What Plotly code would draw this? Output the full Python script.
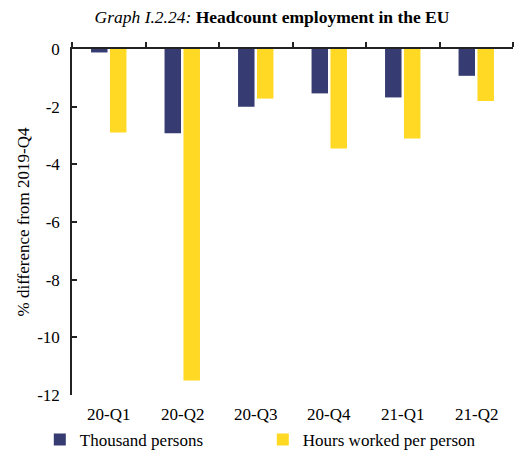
import plotly.graph_objects as go

# ---- Data ----
quarters = ["20-Q1", "20-Q2", "20-Q3", "20-Q4", "21-Q1", "21-Q2"]
thousand_persons = [-0.12, -2.92, -2.0, -1.54, -1.68, -0.93]
hours_per_person = [-2.9, -11.5, -1.72, -3.45, -3.1, -1.8]
y_ticks = [0, -2, -4, -6, -8, -10, -12]
y_labels = ["0", "-2", "-4", "-6", "-8", "-10", "-12"]

NAVY = "#363B72"
YELLOW = "#FFD923"
FONT = "Liberation Serif"

W, H = 515, 460
M = dict(l=72, r=2, t=49, b=56)
plot_h = H - M["t"] - M["b"]

fig = go.Figure()
fig.add_trace(go.Bar(x=quarters, y=thousand_persons, name="Thousand persons",
                     marker=dict(color=NAVY, line=dict(width=0))))
fig.add_trace(go.Bar(x=quarters, y=hours_per_person, name="Hours worked per person",
                     marker=dict(color=YELLOW, line=dict(width=0))))

# category labels sit under the plot, the axis line itself is at y=0 (top)
for q in quarters:
    fig.add_annotation(x=q, xref="x", y=-20 / plot_h, yref="paper", yanchor="middle",
                       text=q, showarrow=False, font=dict(size=17))

fig.update_layout(
    width=W, height=H,
    margin=M,
    paper_bgcolor="white", plot_bgcolor="white",
    font=dict(family=FONT, size=17, color="black"),
    barmode="group", bargap=0.485, bargroupgap=0.13,
    title=dict(text="<i>Graph I.2.24:</i> <b>Headcount employment in the EU</b>",
               x=272 / W, xanchor="center", y=1 - 17 / H, yanchor="middle",
               font=dict(size=17.5)),
    showlegend=True,
    legend=dict(orientation="h", x=-0.073, xanchor="left", y=-0.13, yanchor="middle",
                font=dict(size=17), itemwidth=30,
                traceorder="normal", entrywidth=178, bgcolor="rgba(0,0,0,0)"),
    xaxis=dict(type="category", range=[-0.5, len(quarters) - 0.5], side="top",
               automargin=False, showticklabels=False,
               showline=True, linecolor="#222222", linewidth=1.5,
               ticks="outside", tickson="boundaries", ticklen=5,
               tickcolor="#222222", tickwidth=1.5,
               showgrid=False, zeroline=False),
    yaxis=dict(range=[-12, 0], tickvals=y_ticks, ticktext=y_labels,
               showgrid=False, zeroline=False, automargin=False,
               showline=True, linecolor="#222222", linewidth=1.5,
               ticks="inside", ticklen=5, tickcolor="#222222", tickwidth=1.5,
               ticklabelstandoff=7,
               title=dict(text="% difference from 2019-Q4", font=dict(size=17), standoff=3)),
)

fig.write_html("out.html", config={"displayModeBar": False},
               post_script="document.body.style.margin='0px';")
